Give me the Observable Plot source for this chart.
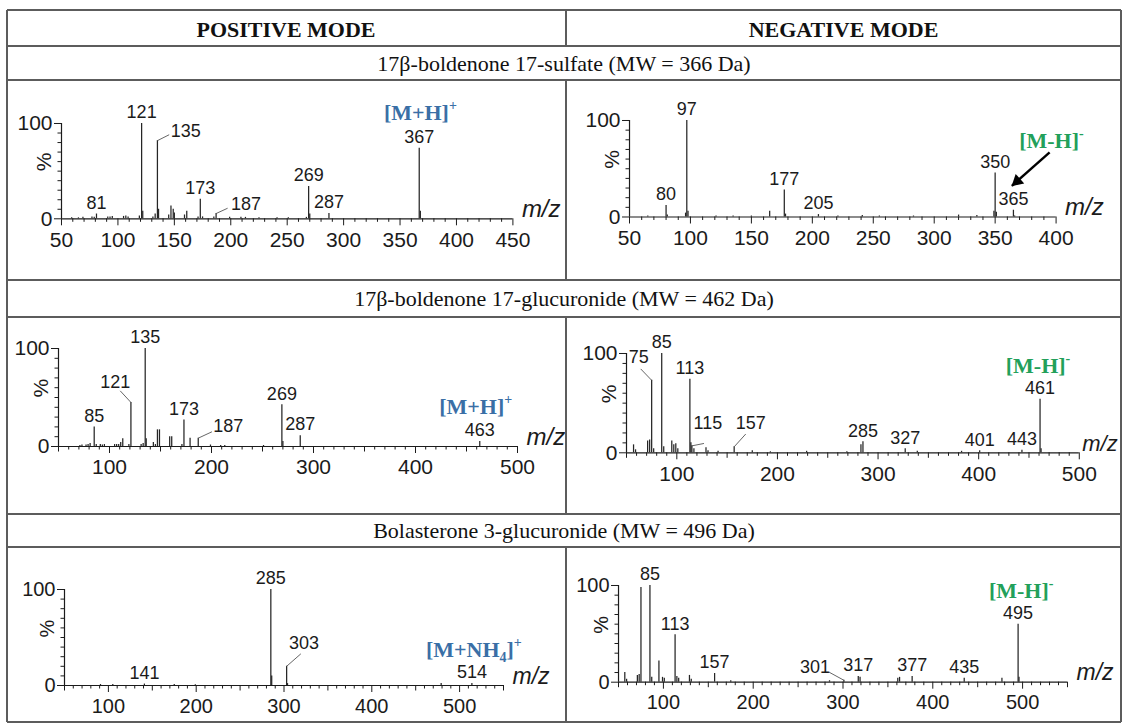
<!DOCTYPE html>
<html><head><meta charset="utf-8">
<script src="https://cdn.jsdelivr.net/npm/d3@7"></script>
<script src="https://cdn.jsdelivr.net/npm/@observablehq/plot@0.6"></script>
<style>
html,body{margin:0;padding:0;background:#fff;}
#wrap{position:relative;width:1124px;height:726px;overflow:hidden;font-family:"Liberation Serif","Times New Roman",serif;color:#111;}
.ln{position:absolute;background:#5c5c5c;}
.cell{position:absolute;text-align:center;white-space:nowrap;}
.head{font-weight:bold;font-size:22px;}
.title{font-size:22px;}
</style></head><body><div id="wrap"></div>
<script>
// ---------- DATA ----------
const columns = ["POSITIVE MODE", "NEGATIVE MODE"];
const compounds = [
  "17β-boldenone 17-sulfate (MW = 366 Da)",
  "17β-boldenone 17-glucuronide (MW = 462 Da)",
  "Bolasterone 3-glucuronide (MW = 496 Da)"
];
// x tick labels
const ticksSulfatePos = [50,100,150,200,250,300,350,400,450];
const ticksSulfateNeg = [50,100,150,200,250,300,350,400];
const ticksGlucuronide = [100,200,300,400,500];
const ticksBolasterone = [100,200,300,400,500];

// peaks: [m/z, relative intensity %]
const sulfatePos = [[59,1],[65,1],[69,1.5],[77,2],[79,1.5],[81,5],[91,2],[93,2],[95,2.5],[105,2.5],[107,3],[109,2],[119,3],[121,100],[122,8],[131,2],[133,5],[135,82],[136,10],[145,4],[147,13.5],[149,10],[150,6],[159,4],[161,8],[171,2],[173,20.5],[175,2],[185,2],[187,5.5],[199,1.5],[209,1.5],[213,1.5],[225,1],[241,1],[251,1],[267,1.5],[269,34],[270,5],[287,5.5],[367,74],[368,8]];
const sulfateNeg = [[65,1],[80,12],[81,2],[96,4],[97,100],[98,6],[121,1],[135,1],[150,1],[165,6],[177,28],[178,3],[205,2.5],[221,1],[241,1.5],[255,1],[283,1],[320,2],[335,1.5],[349,6],[350,45.5],[351,5],[365,7],[366,1]];
const glucPos = [[71,1],[73,1.5],[77,1.5],[79,2],[81,3],[85,20],[87,2],[91,2],[93,1.5],[95,2],[105,2],[107,2],[109,2],[111,4],[113,8],[119,2],[121,45],[131,2],[133,3],[135,100],[136,8],[143,4],[145,2],[147,17],[149,17],[159,10],[161,10],[171,2],[173,27],[179,8.5],[187,8.5],[199,1.5],[209,1],[213,1],[251,1],[269,42.5],[270,5],[287,11],[463,5]];
const glucNeg = [[57,8],[59,3],[71,12],[73,13],[75,73],[77,4],[85,100],[87,6],[95,12],[97,8],[99,9],[101,4],[113,74],[114,10],[115,7],[117,4],[129,5],[131,2],[141,1.5],[157,6],[175,2],[193,1],[229,1.5],[269,1],[283,8],[285,11],[327,4],[339,1.5],[383,1.5],[401,2],[443,2.5],[461,54],[462,4]];
const bolaPos = [[91,1],[105,1],[141,1.5],[175,1],[199,0.8],[285,100],[286,10],[303,20],[304,2],[479,2],[514,2]];
const bolaNeg = [[57,10],[59,3],[71,7],[73,8],[75,98],[85,100],[87,5],[95,22],[99,5],[101,4],[113,49],[115,6],[117,4],[129,7],[131,3],[157,9],[175,1.5],[285,1.5],[301,2],[317,6],[319,5],[361,4],[363,5],[377,6],[435,4],[477,4],[495,60],[496,5]];

// labelled peaks (label directly above the peak)
const sulfatePosLabels = [81,121,173,269,287,367];
const sulfateNegLabels = [80,97,177,205,350,365];
const glucPosLabels = [85,135,173,269,287,463];
const glucNegLabels = [85,113,285,327,401,443,461];
const bolaPosLabels = [141,285,514];
const bolaNegLabels = [85,113,157,317,377,435,495];
// labelled peaks with a leader line: [peak m/z, leader end m/z, leader end %, label m/z, label %]
const sulfatePosLeaders = [[135,145.4,88.2,160.2,91.7],[187,197.2,11.1,213.4,15.3]];
const sulfateNegLeaders = [];
const glucPosLeaders = [[121,110.5,56.8,105.6,66],[187,200.4,15,216.4,21.1]];
const glucNegLeaders = [[75,64.1,84.5,62.1,96.3],[115,127,9.4,130.9,29.3],[157,168.5,18.9,173.4,29.3]];
const bolaPosLeaders = [[303,319.2,33,322.7,43.75]];
const bolaNegLeaders = [[301,284.6,10.3,268.7,15.2]];
// molecular ion annotations
const ionSulfatePos = {text: "[M+H]+", mz: 335.7, y: 111.5};
const ionSulfateNeg = {text: "[M-H]-", mz: 369.7, y: 78.5, arrow: [394.7, 67, 363.7, 32.3]};
const ionGlucPos = {text: "[M+H]+", mz: 423.2, y: 40.5};
const ionGlucNeg = {text: "[M-H]-", mz: 426.9, y: 87.5};
const ionBolaPos = {text: "[M+NH4]+", mz: 461.6, y: 37.5};
const ionBolaNeg = {text: "[M-H]-", mz: 462.5, y: 94};

// ---------- LAYOUT ----------
const layout = [
  {x0:60.6, x1:512, yTop:122.7, yBase:218, tf:21, mzDx:9, mzSize:24},
  {x0:629.4, x1:1056, yTop:120, yBase:216.5, tf:21, mzDx:9, mzSize:24},
  {x0:58.3, x1:517.3, yTop:347.7, yBase:445.7, tf:21, mzDx:9, mzSize:24},
  {x0:625.8, x1:1078.6, yTop:352.7, yBase:452, tf:21, mzDx:3, mzSize:22},
  {x0:63.6, x1:502.6, yTop:589, yBase:685, tf:20, mzDx:9, mzSize:23},
  {x0:617.6, x1:1066.6, yTop:585, yBase:681.7, tf:20, mzDx:9, mzSize:23}
];
const blue = "#3a6fa6", green = "#22a05a", ink = "#1b1b1b";
const sans = "'Liberation Sans', Arial, Helvetica, sans-serif";
const serif = "'Liberation Serif', 'Times New Roman', serif";

const specs = [
  {peaks: sulfatePos, labels: sulfatePosLabels, leaders: sulfatePosLeaders, ticks: ticksSulfatePos, domain: [50,450], ion: ionSulfatePos, color: blue},
  {peaks: sulfateNeg, labels: sulfateNegLabels, leaders: sulfateNegLeaders, ticks: ticksSulfateNeg, domain: [50,400], ion: ionSulfateNeg, color: green},
  {peaks: glucPos, labels: glucPosLabels, leaders: glucPosLeaders, ticks: ticksGlucuronide, domain: [50,500], ion: ionGlucPos, color: blue},
  {peaks: glucNeg, labels: glucNegLabels, leaders: glucNegLeaders, ticks: ticksGlucuronide, domain: [50,500], ion: ionGlucNeg, color: green},
  {peaks: bolaPos, labels: bolaPosLabels, leaders: bolaPosLeaders, ticks: ticksBolasterone, domain: [50,550], ion: ionBolaPos, color: blue},
  {peaks: bolaNeg, labels: bolaNegLabels, leaders: bolaNegLeaders, ticks: ticksBolasterone, domain: [50,550], ion: ionBolaNeg, color: green}
].map((s, i) => ({...s, ...layout[i]}));

const wrap = document.getElementById("wrap");
const NS = "http://www.w3.org/2000/svg";

function richIon(svg) {
  svg.querySelectorAll("text").forEach(t => {
    const m = /^\[M([+-])([A-Z]+)(\d?)\]([+-])$/.exec(t.textContent);
    if (!m) return;
    while (t.firstChild) t.removeChild(t.firstChild);
    const add = (txt, attrs = {}) => {
      const ts = document.createElementNS(NS, "tspan");
      ts.textContent = txt;
      for (const k in attrs) ts.setAttribute(k, attrs[k]);
      t.appendChild(ts);
    };
    add("[M" + m[1] + m[2]);
    if (m[3]) { add(m[3], {dy: 5, "font-size": 14}); add("]", {dy: -5}); }
    else add("]");
    add(m[4], {dy: -10, "font-size": 14});
  });
}

function panel(s) {
  const ml = 70, mr = 80, mt = 50, mb = 40;
  const iw = s.x1 - s.x0, ih = s.yBase - s.yTop;
  const inten = new Map(s.peaks);
  const all10 = d3.range(s.domain[0], s.domain[1] + 0.1, 10);
  const minor = all10.filter(v => !s.ticks.includes(v) && v % 50 !== 0);
  const mid = all10.filter(v => !s.ticks.includes(v) && v % 50 === 0);
  const marks = [
    Plot.axisX({ticks: minor, tickSize: 3.5, stroke: ink, fill: "none", label: null}),
    Plot.axisX({ticks: mid, tickSize: 5.5, stroke: ink, fill: "none", label: null}),
    Plot.axisX({ticks: s.ticks, tickSize: 7, tickPadding: 6, stroke: ink, fill: ink, fontSize: s.tf, label: null, tickFormat: d => String(d)}),
    Plot.axisY({ticks: d3.range(10, 100, 10), tickSize: 3.5, stroke: ink, fill: "none", label: null}),
    Plot.axisY({ticks: [0, 100], tickSize: 7, tickPadding: 2, stroke: ink, fill: ink, fontSize: s.tf, label: null}),
    Plot.ruleY([0], {stroke: ink, strokeWidth: 1.2}),
    Plot.ruleX([s.domain[0]], {y1: 0, y2: 100, stroke: ink, strokeWidth: 1.2}),
    Plot.text(["%"], {text: d => d, frameAnchor: "left", dx: -17, rotate: -90, fontSize: s.tf, fill: ink}),
    Plot.text(["m/z"], {text: d => d, frameAnchor: "bottom-right", dx: s.mzDx, dy: -2, textAnchor: "start", fontStyle: "italic", fontSize: s.mzSize, fill: ink}),
    Plot.ruleX(s.peaks, {x: d => d[0], y1: 0, y2: d => d[1], stroke: "#262626", strokeWidth: 1.25}),
    Plot.text(s.labels, {x: d => d, y: d => inten.get(d), text: d => String(d), dy: -11, fontSize: 18, fill: ink}),
    Plot.link(s.leaders, {x1: d => d[0], y1: d => inten.get(d[0]), x2: d => d[1], y2: d => d[2], stroke: "#555", strokeWidth: 0.9}),
    Plot.text(s.leaders, {x: d => d[3], y: d => d[4], text: d => String(d[0]), fontSize: 18, fill: ink}),
    Plot.text([s.ion], {x: "mz", y: "y", text: "text", textAnchor: "start", fontFamily: serif, fontWeight: "bold", fontSize: 22, fill: s.color})
  ];
  if (s.ion.arrow) {
    const a = s.ion.arrow;
    marks.push(Plot.link([a], {x1: d => d[0], y1: d => d[1], x2: d => d[2], y2: d => d[3], stroke: "#000", strokeWidth: 2.4}));
    marks.push(Plot.dot([a], {x: d => d[2], y: d => d[3], dx: 5.3, dy: -4.6, symbol: "triangle", r: 4.8, rotate: 228.6, fill: "#000", stroke: "none"}));
  }
  const svg = Plot.plot({
    width: iw + ml + mr, height: ih + mt + mb,
    marginLeft: ml, marginRight: mr, marginTop: mt, marginBottom: mb,
    x: {domain: s.domain},
    y: {domain: [0, 100]},
    style: {fontFamily: sans, fontSize: s.tf + "px", background: "transparent", overflow: "visible", color: ink},
    marks
  });
  richIon(svg);
  svg.style.position = "absolute";
  svg.style.left = (s.x0 - ml) + "px";
  svg.style.top = (s.yTop - mt) + "px";
  svg.style.maxWidth = "none";
  wrap.appendChild(svg);
}
specs.forEach(panel);

// ---------- TABLE ----------
function cell(txt, cls, left, top, width, height) {
  const d = document.createElement("div");
  d.className = "cell " + cls;
  d.textContent = txt;
  Object.assign(d.style, {left: left + "px", top: top + "px", width: width + "px", height: height + "px", lineHeight: height + "px"});
  wrap.appendChild(d);
}
cell(columns[0], "head", 7, 11, 558, 37);
cell(columns[1], "head", 566, 11, 555, 37);
cell(compounds[0], "title", 7, 47, 1114, 33);
cell(compounds[1], "title", 7, 281, 1114, 36);
cell(compounds[2], "title", 7, 515, 1114, 32);

function line(x, y, w, h) {
  const d = document.createElement("div");
  d.className = "ln";
  Object.assign(d.style, {left: x + "px", top: y + "px", width: w + "px", height: h + "px"});
  wrap.appendChild(d);
}
const L = 7, R = 1121, T = 9.5, B = 722;
[T, 46, 80, 280, 317, 514, 547, B].forEach(y => line(L, y - 1, R - L, 2));
[L, R].forEach(x => line(x - 1, T, 2, B - T));
[[T, 46], [80, 280], [317, 514], [547, B]].forEach(([a, b]) => line(564.5, a, 2, b - a));
</script></body></html>
